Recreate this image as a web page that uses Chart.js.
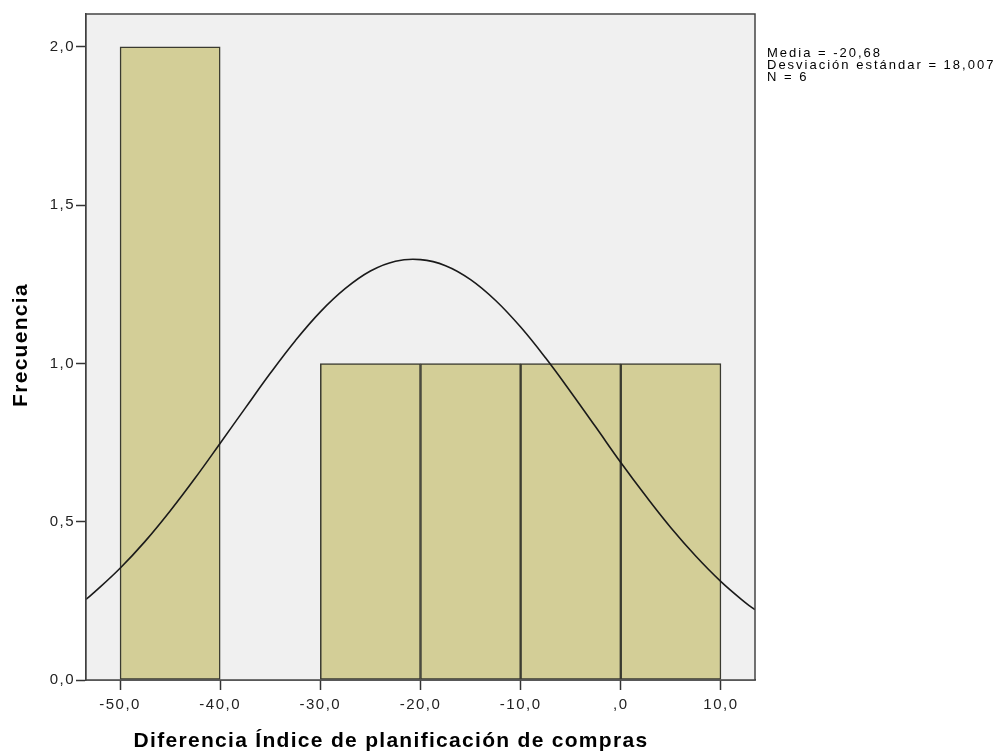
<!DOCTYPE html>
<html>
<head>
<meta charset="utf-8">
<script src="https://cdn.jsdelivr.net/npm/chart.js@4/dist/chart.umd.min.js"></script>
<style>
  html, body { margin: 0; padding: 0; background: #ffffff; }
  #wrap { width: 999px; height: 753px; position: relative; }
</style>
</head>
<body>
<div id="wrap"><canvas id="c" width="999" height="753"></canvas></div>
<script>
// Histogram bins (centre of each 10-unit bin) and their frequencies
const binCenters = [-45, -25, -15, -5, 5];
const binCounts = [2, 1, 1, 1, 1];

// Fitted normal curve (Media = -20,68, Desv. = 18,007, N = 6)
const curveX = [-53.4, -52.5, -50, -47.5, -45, -42.5, -40, -37.5, -35, -32.5, -30, -27.5, -25, -22.5, -20,
  -17.5, -15, -12.5, -10, -7.5, -5, -2.5, 0, 2.5, 5, 7.5, 10, 12.5, 13.4];
const curveY = [0.255, 0.279, 0.353, 0.438, 0.534, 0.638, 0.748, 0.859, 0.969, 1.072, 1.163, 1.237, 1.292, 1.323, 1.328,
  1.309, 1.265, 1.199, 1.115, 1.017, 0.910, 0.799, 0.687, 0.581, 0.481, 0.391, 0.311, 0.243, 0.222];

// Axis ticks
const xTicks = [-50, -40, -30, -20, -10, 0, 10];
const yTicks = [0, 0.5, 1, 1.5, 2];

// Summary statistics text
const statsLines = ['Media = -20,68', 'Desviación estándar = 18,007', 'N = 6'];
const xTitle = 'Diferencia Índice de planificación de compras';
const yTitle = 'Frecuencia';

const FONT = '"Liberation Sans", Arial, sans-serif';

// x labels drop the leading zero (",0"), y labels keep it ("0,0")
function fmtX(v) {
  if (Math.abs(v) < 1e-9) return ',0';
  return v.toFixed(1).replace('.', ',');
}
function fmtY(v) {
  return v.toFixed(1).replace('.', ',');
}

const plotFrame = {
  id: 'plotFrame',
  beforeDraw(chart) {
    // slightly wider spacing for the tick labels
    chart.ctx.letterSpacing = '1.5px';
  },
  beforeDatasetsDraw(chart) {
    const a = chart.chartArea, ctx = chart.ctx;
    ctx.save();
    ctx.fillStyle = '#f0f0f0';
    ctx.fillRect(a.left, a.top, a.right - a.left, a.bottom - a.top);
    ctx.restore();
  },
  afterDraw(chart) {
    const a = chart.chartArea, ctx = chart.ctx;
    ctx.save();
    ctx.strokeStyle = '#444444';
    ctx.lineWidth = 1.5;
    ctx.strokeRect(a.left, a.top, a.right - a.left, a.bottom - a.top);

    // summary statistics
    ctx.fillStyle = '#000000';
    ctx.font = '13px ' + FONT;
    ctx.letterSpacing = '2px';
    ctx.textBaseline = 'middle';
    ctx.textAlign = 'left';
    statsLines.forEach((t, i) => ctx.fillText(t, 767, 53 + i * 12));

    // axis titles
    ctx.font = 'bold 21px ' + FONT;
    ctx.letterSpacing = '1.3px';
    ctx.textAlign = 'center';
    ctx.textBaseline = 'alphabetic';
    ctx.fillText(xTitle, 391, 747);
    ctx.translate(27, 345);
    ctx.rotate(-Math.PI / 2);
    ctx.fillText(yTitle, 0, 0);
    ctx.restore();
  }
};

const barData = binCenters.map((x, i) => ({ x: x, y: binCounts[i] }));
const curveData = curveX.map((x, i) => ({ x: x, y: curveY[i] }));

new Chart(document.getElementById('c'), {
  type: 'bar',
  data: {
    datasets: [
      {
        type: 'line',
        data: curveData,
        borderColor: '#1a1a1a',
        borderWidth: 1.6,
        pointRadius: 0,
        fill: false,
        tension: 0.4,
        order: 0
      },
      {
        type: 'bar',
        data: barData,
        backgroundColor: '#d3ce97',
        borderColor: '#3a3a30',
        borderWidth: 1.5,
        borderSkipped: false,
        barPercentage: 1,
        categoryPercentage: 1,
        order: 1
      }
    ]
  },
  options: {
    responsive: false,
    animation: false,
    layout: { padding: { left: 0, top: 14, right: 244, bottom: 0 } },
    plugins: { legend: { display: false }, tooltip: { enabled: false } },
    scales: {
      x: {
        type: 'linear',
        offset: false,
        min: -53.4,
        max: 13.4,
        afterBuildTicks(scale) { scale.ticks = xTicks.map(v => ({ value: v })); },
        afterFit(scale) { scale.height = 73; },
        grid: { drawOnChartArea: false, offset: false, tickLength: 10, color: '#333333', tickWidth: 1.5 },
        border: { color: '#333333', width: 1.5 },
        ticks: {
          color: '#222222',
          padding: 6,
          maxRotation: 0,
          autoSkip: false,
          font: { size: 15, family: FONT },
          callback: v => fmtX(v)
        }
      },
      y: {
        type: 'linear',
        min: 0,
        max: 2.104,
        afterBuildTicks(scale) { scale.ticks = yTicks.map(v => ({ value: v })); },
        afterFit(scale) { scale.width = 86; },
        grid: { drawOnChartArea: false, tickLength: 10, color: '#333333', tickWidth: 1.5 },
        border: { color: '#333333', width: 1.5 },
        ticks: {
          color: '#222222',
          padding: 1,
          autoSkip: false,
          font: { size: 15, family: FONT },
          callback: v => fmtY(v)
        }
      }
    }
  },
  plugins: [plotFrame]
});
</script>
</body>
</html>
